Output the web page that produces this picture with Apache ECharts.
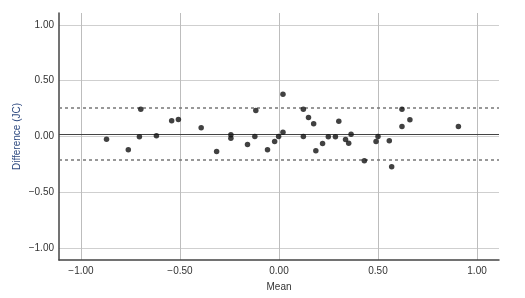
<!DOCTYPE html>
<html>
<head>
<meta charset="utf-8">
<script src="https://cdn.jsdelivr.net/npm/echarts@6/dist/echarts.min.js"></script>
<style>html,body{margin:0;padding:0;background:#fff}#c{width:525px;height:298px}</style>
</head>
<body>
<div id="c"></div>
<script>
const meanValues = [-0.871,-0.761,-0.698,-0.705,-0.619,-0.542,-0.508,-0.393,-0.315,-0.243,-0.243,-0.159,-0.122,-0.117,-0.058,-0.022,-0.002,0.020,0.020,0.123,0.123,0.149,0.175,0.186,0.220,0.249,0.285,0.302,0.336,0.352,0.364,0.431,0.490,0.500,0.557,0.569,0.621,0.621,0.661,0.906];
const diffValues = [-0.024,-0.119,0.244,-0.003,0.006,0.141,0.152,0.078,-0.134,0.015,-0.015,-0.072,0.000,0.233,-0.119,-0.045,0.000,0.379,0.038,0.244,0.000,0.170,0.114,-0.128,-0.063,-0.003,-0.003,0.137,-0.027,-0.060,0.021,-0.218,-0.045,0.000,-0.038,-0.271,0.244,0.090,0.150,0.090];
const biasLine = [0.022];
const limitLines = [0.26, -0.215];
const xTicks = [-1.00, -0.50, 0.00, 0.50, 1.00];
const yTicks = [-1.00, -0.50, 0.00, 0.50, 1.00];

const fmt = v => {
  const s = Math.abs(v).toFixed(2);
  return (v < -1e-9 ? '\u2212' : '') + s;
};
const isTick = (arr, v) => arr.some(t => Math.abs(t - v) < 1e-6);

const chart = echarts.init(document.getElementById('c'));
const points = meanValues.map((m, i) => [m, diffValues[i]]);
const font = 'Liberation Sans, Arial, sans-serif';

chart.setOption({
  animation: false,
  grid: {left: 59, right: 26, top: 13, bottom: 38},
  xAxis: {
    type: 'value', min: -1.111, max: 1.111, splitNumber: 4,
    name: 'Mean', nameLocation: 'middle', nameGap: 22,
    nameTextStyle: {color: '#333', fontSize: 10, fontFamily: font},
    axisLine: {show: true, onZero: false, lineStyle: {color: '#444', width: 1.5}},
    axisTick: {show: false},
    axisLabel: {color: '#333', fontSize: 10, fontFamily: font, margin: 6,
      showMinLabel: false, showMaxLabel: false,
      formatter: v => isTick(xTicks, v) ? fmt(v) : ''},
    splitLine: {show: true, showMinLine: false, showMaxLine: false, lineStyle: {color: '#bdbdbd', width: 1}}
  },
  yAxis: {
    type: 'value', min: -1.106, max: 1.106, splitNumber: 4,
    name: 'Difference (JC)', nameLocation: 'middle', nameGap: 37, nameMoveOverlap: false,
    nameTextStyle: {color: '#2e4a80', fontSize: 10, fontFamily: font},
    axisLine: {show: true, onZero: false, lineStyle: {color: '#444', width: 1.5}},
    axisTick: {show: false},
    axisLabel: {color: '#333', fontSize: 10, fontFamily: font, margin: 5,
      showMinLabel: false, showMaxLabel: false,
      formatter: v => isTick(yTicks, v) ? fmt(v) : ''},
    splitLine: {show: true, showMinLine: false, showMaxLine: false, lineStyle: {color: '#cfcfcf', width: 1.2}}
  },
  series: [{
    type: 'scatter',
    data: points,
    symbol: 'circle',
    symbolSize: 5.5,
    itemStyle: {color: '#111'},
    z: 5,
    markLine: {
      silent: true, symbol: 'none', label: {show: false},
      data: [
        {yAxis: biasLine[0], lineStyle: {color: '#444', width: 1.2, type: 'solid'}},
        {yAxis: limitLines[0], lineStyle: {color: '#777', width: 1.5, type: [3, 3]}},
        {yAxis: limitLines[1], lineStyle: {color: '#777', width: 1.5, type: [3, 3]}}
      ]
    }
  }]
});
</script>
</body>
</html>
